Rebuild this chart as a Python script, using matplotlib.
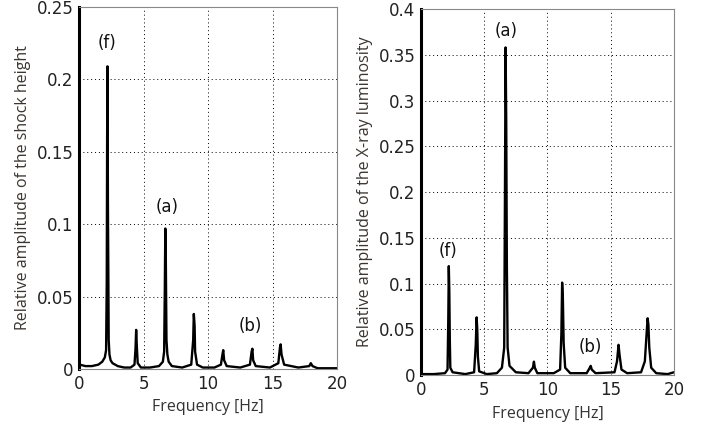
import matplotlib
matplotlib.use("Agg")
import matplotlib.pyplot as plt

# shock height spectrum (left panel)
freq_h = [0.05, 0.5, 1.0, 1.5, 1.8, 2.0, 2.1, 2.15, 2.18, 2.21, 2.24, 2.27, 2.30, 2.36, 2.45,
          2.6, 3.0, 3.5, 4.0, 4.3, 4.38, 4.43, 4.48, 4.55, 4.8, 5.5, 6.2, 6.5, 6.6, 6.65, 6.69,
          6.73, 6.78, 6.85, 6.95, 7.2, 8.0, 8.7, 8.85, 8.9, 8.96, 9.0, 9.15, 9.6, 10.5, 11.0,
          11.12, 11.18, 11.25, 11.45, 12.5, 13.25, 13.38, 13.44, 13.5, 13.7, 14.8, 15.45,
          15.58, 15.63, 15.7, 15.9, 17.0, 17.85, 17.97, 18.1, 18.5, 20.0]
amp_h = [0.003, 0.002, 0.002, 0.003, 0.005, 0.008, 0.013, 0.06, 0.16, 0.209, 0.115, 0.07, 0.02,
         0.01, 0.006, 0.004, 0.002, 0.001, 0.001, 0.003, 0.014, 0.027, 0.016, 0.004, 0.001,
         0.001, 0.002, 0.005, 0.012, 0.054, 0.097, 0.075, 0.02, 0.01, 0.005, 0.002, 0.001,
         0.003, 0.02, 0.038, 0.03, 0.012, 0.003, 0.001, 0.001, 0.003, 0.01, 0.013, 0.006,
         0.002, 0.001, 0.003, 0.012, 0.014, 0.006, 0.002, 0.001, 0.004, 0.015, 0.017, 0.01,
         0.003, 0.001, 0.002, 0.004, 0.002, 0.0005, 0.0005]

# X-ray luminosity spectrum (right panel)
freq_x = [0.05, 1.0, 1.9, 2.1, 2.16, 2.2, 2.24, 2.28, 2.32, 2.5, 3.5, 4.2, 4.33, 4.4, 4.45,
          4.5, 4.6, 5.2, 6.0, 6.4, 6.58, 6.64, 6.69, 6.74, 6.79, 6.85, 7.0, 7.5, 8.5, 8.85,
          8.93, 9.0, 9.2, 10.5, 11.0, 11.1, 11.16, 11.22, 11.28, 11.4, 11.8, 13.1, 13.35,
          13.42, 13.5, 13.8, 15.3, 15.5, 15.62, 15.7, 15.85, 16.3, 17.4, 17.7, 17.85, 17.92,
          17.98, 18.05, 18.2, 18.6, 19.5, 20.0]
amp_x = [0.001, 0.001, 0.002, 0.006, 0.062, 0.119, 0.092, 0.038, 0.008, 0.003, 0.001, 0.003,
         0.033, 0.063, 0.05, 0.02, 0.004, 0.001, 0.002, 0.008, 0.03, 0.2, 0.358, 0.278, 0.12,
         0.03, 0.01, 0.003, 0.002, 0.008, 0.0146, 0.008, 0.002, 0.002, 0.006, 0.045, 0.101,
         0.083, 0.035, 0.008, 0.002, 0.002, 0.008, 0.010, 0.006, 0.002, 0.003, 0.015, 0.033,
         0.022, 0.006, 0.002, 0.003, 0.015, 0.048, 0.062, 0.055, 0.03, 0.008, 0.002, 0.001,
         0.003]

ticks_h = [0, 0.05, 0.1, 0.15, 0.2, 0.25]
ticks_x = [0, 0.05, 0.1, 0.15, 0.2, 0.25, 0.3, 0.35, 0.4]
labels_h = [("(f)", 2.2, 0.225), ("(a)", 6.8, 0.112), ("(b)", 13.3, 0.030)]
labels_x = [("(a)", 6.7, 0.376), ("(f)", 2.15, 0.136), ("(b)", 13.4, 0.031)]

fig = plt.figure(figsize=(7.08, 4.25), dpi=100)
ax1 = fig.add_axes([0.1116, 0.1318, 0.3644, 0.8518])
ax2 = fig.add_axes([0.5946, 0.1176, 0.3573, 0.8612])


def style(ax, f, a, yt, ylab, notes):
    ax.plot(f, a, color="black", lw=1.7)
    ax.set_xlim(0, 20)
    ax.set_ylim(0, yt[-1])
    ax.set_xticks([0, 5, 10, 15, 20])
    ax.set_yticks(yt)
    ax.set_yticklabels(["0" if v == 0 else ("%g" % v) for v in yt])
    ax.grid(True, color="black", linestyle=(0, (1, 3)), linewidth=0.7)
    ax.tick_params(length=0, labelsize=12, colors="#222222", pad=4)
    for s in ["top", "right", "bottom"]:
        ax.spines[s].set_color("#888888")
        ax.spines[s].set_linewidth(0.8)
    ax.spines["left"].set_color("black")
    ax.spines["left"].set_linewidth(2.2)
    ax.set_xlabel("Frequency [Hz]", family="Open Sans", fontsize=11.5, color="#333333",
                  labelpad=5)
    ax.set_ylabel(ylab, family="Open Sans", fontsize=11.5, color="#3a3530", labelpad=4)
    for txt, x, y in notes:
        ax.text(x, y, txt, ha="center", va="center", fontsize=12, color="#111111")


style(ax1, freq_h, amp_h, ticks_h, "Relative amplitude of the shock height", labels_h)
style(ax2, freq_x, amp_x, ticks_x, "Relative amplitude of the X-ray luminosity", labels_x)

fig.savefig("out.png", dpi=100)
